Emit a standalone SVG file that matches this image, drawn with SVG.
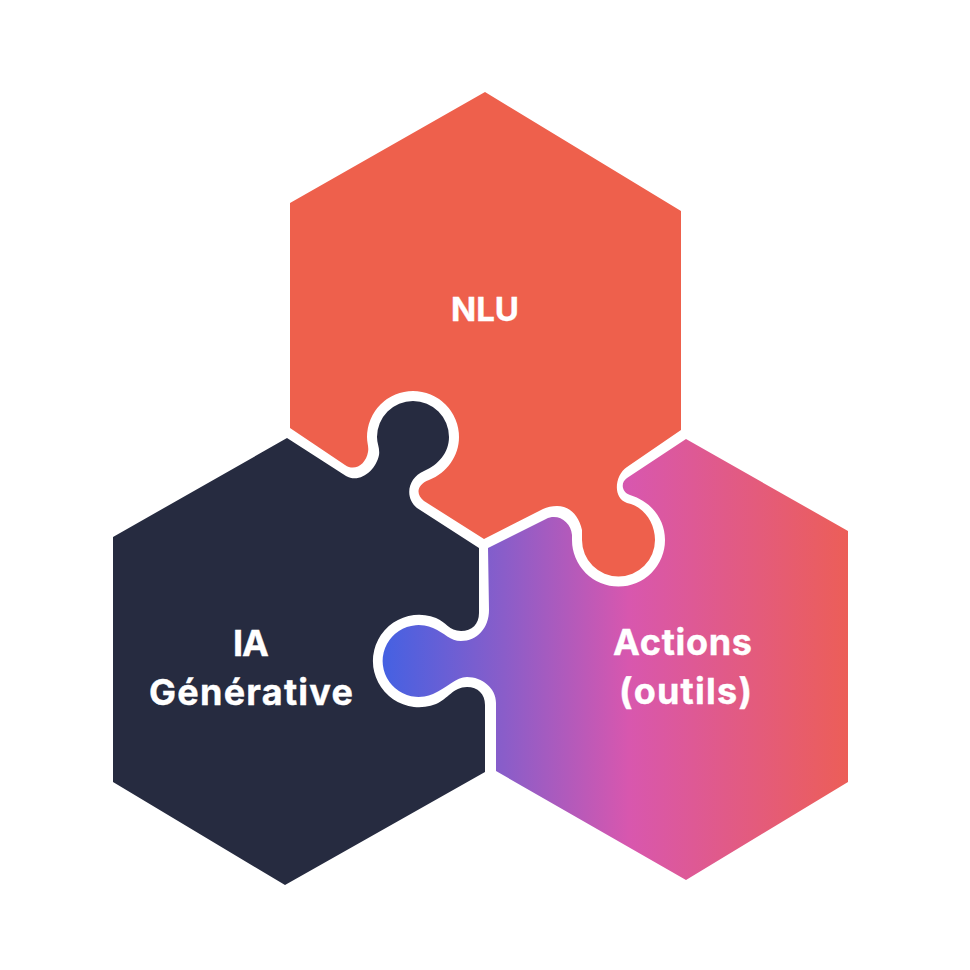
<svg xmlns="http://www.w3.org/2000/svg" width="970" height="970" viewBox="0 0 970 970">
<style>
text{font-family:"Inter","Liberation Sans",sans-serif;font-weight:700;font-size:36px;fill:#fff;stroke:#fff;stroke-width:.4px}
#nlu text{font-size:33px}
</style>
<defs>
<linearGradient id="g" gradientUnits="userSpaceOnUse" x1="383" y1="0" x2="848" y2="0">
<stop offset="0" stop-color="#4561e2"/>
<stop offset="0.26" stop-color="#8a5dc9"/>
<stop offset="0.53" stop-color="#d857ae"/>
<stop offset="1" stop-color="#ec5e58"/>
</linearGradient>
</defs>
<rect width="970" height="970" fill="#fff"/>
<g id="nlu">
<path fill="#ee604c" d="M485 92L681 211V430L627 467C615 475 612 498 627 503C643 506 655 522 655 540A36.500 36.500 0 0 1 582 540C582 536 582 533 582 530C579 516 570 506 557 506C552 506 547 507 543 509L484 539L424 501C416 495 416 485 429 480C447 473 459 456 459 437A46 46 0 0 0 367 437C367 443 369 447 368 452C366 464 355 472 345 465L290 428V203Z"/>
<text x="451" y="321" textLength="68">NLU</text>
</g>
<g id="ia">
<path fill="#262b40" d="M287 438L346 476C360 484 376 470 379 455C380 448 377 444 377 437A36 36 0 0 1 449 437C449 453 438 465 424 471C408 478 404 497 417 508L479 548V613C479 624 472 631 461 631C449 631 446 622 436 618A46.200 46.200 0 1 0 436 704C448 699 453 687 467 687C478 687 485 694 485 705V772L285 885L113 782V537Z"/>
<text x="233" y="656" textLength="36">IA</text>
<text x="149" y="705" textLength="204">Générative</text>
</g>
<g id="actions">
<path fill="url(#g)" d="M488 548L546 519C558 513 571 522 572 535C572 537 572 538 572 540A46.500 46.500 0 0 0 665 540C665 518 650 501 630 495C622 492 620 483 627 478L686 439L848 531V782L686 880L496 771V703C496 688 482 677 467 677C456 677 447 688 433 694A36 36 0 1 1 433 628C445 633 450 641 461 641C477 641 489 628 489 610Z"/>
<text x="613" y="655" textLength="139">Actions</text>
<text x="619" y="704" textLength="133">(outils)</text>
</g>
<g id="connectors"></g>
</svg>
